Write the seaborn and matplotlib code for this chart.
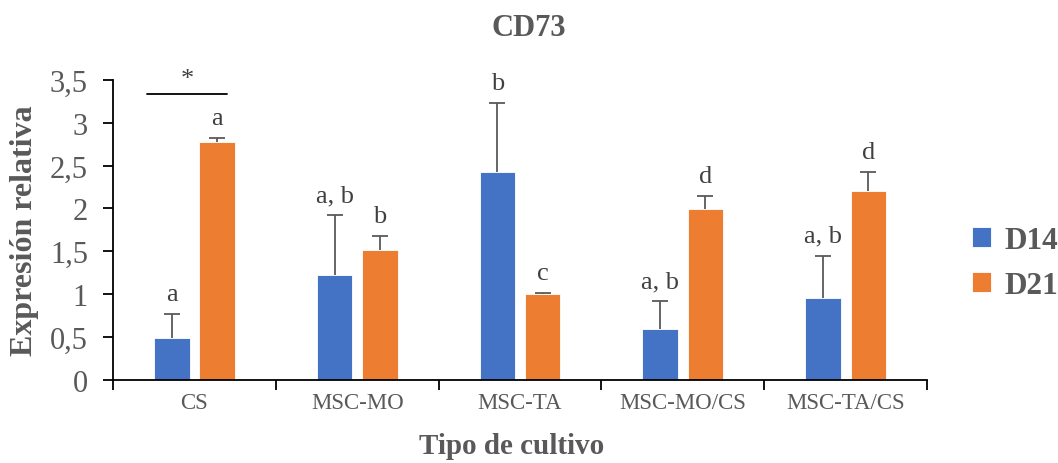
import numpy as np
import pandas as pd
import matplotlib
matplotlib.use("Agg")
import matplotlib.pyplot as plt
from matplotlib.ticker import FuncFormatter, FixedLocator
import seaborn as sns

categories = ["CS", "MSC-MO", "MSC-TA", "MSC-MO/CS", "MSC-TA/CS"]
d14 = [0.49, 1.22, 2.42, 0.60, 0.96]
d14_err = [0.28, 0.70, 0.81, 0.32, 0.49]
d21 = [2.77, 1.51, 1.00, 1.99, 2.20]
d21_err = [0.05, 0.17, 0.01, 0.16, 0.22]
letters_d14 = ["a", "a, b", "b", "a, b", "a, b"]
letters_d21 = ["a", "b", "c", "d", "d"]
series = ["D14", "D21"]
colors = ["#4472C4", "#ED7D31"]

df = pd.DataFrame({
    "Tipo de cultivo": categories * 2,
    "valor": d14 + d21,
    "dia": [series[0]] * len(categories) + [series[1]] * len(categories),
})

sns.set_theme(style="white")
plt.rcParams["font.family"] = ["Liberation Serif", "DejaVu Serif"]
TXT = "#595959"

fig = plt.figure(figsize=(10.58, 4.64), dpi=100)
ax = fig.add_axes([0.1068, 0.1789, 0.7694, 0.6471])

sns.barplot(data=df, x="Tipo de cultivo", y="valor", hue="dia",
            palette=colors, saturation=1, width=0.556, gap=0.216, errorbar=None,
            edgecolor="white", linewidth=0.6, ax=ax)

errs = [d14_err, d21_err]
letters = [letters_d14, letters_d21]
for cont, err, labs in zip(ax.containers, errs, letters):
    xs = np.array([b.get_x() + b.get_width() / 2 for b in cont])
    hs = np.array([b.get_height() for b in cont])
    tops = hs + np.array(err)
    ax.vlines(xs, hs, tops, color=TXT, lw=1.3, zorder=3)
    ax.plot(xs, tops, ls="none", marker="_", markersize=11, markeredgewidth=1.3,
            color=TXT, zorder=3)
    for x, t_, lab in zip(xs, tops, labs):
        ax.annotate(lab, (x, t_), xytext=(0, 10), textcoords="offset points",
                    ha="center", va="baseline", fontsize=19, color="#404040")

# significance bracket for CS
ax.plot([-0.29, 0.2], [3.33, 3.33], color="black", lw=1.3, clip_on=False)
ax.text(-0.045, 3.38, "*", ha="center", va="bottom", fontsize=19, color="#404040")

ax.set_ylim(0, 3.5)
ax.set_xlim(-0.5, len(categories) - 0.5)
ax.yaxis.set_major_locator(FixedLocator(np.arange(0, 3.51, 0.5)))
ax.yaxis.set_major_formatter(FuncFormatter(lambda v, p: f"{v:g}".replace(".", ",")))
ax.tick_params(axis="y", which="major", direction="out", length=7, width=1.3,
               color="black", labelsize=22, labelcolor=TXT, pad=11, left=True)
ax.xaxis.set_minor_locator(FixedLocator(np.arange(-0.5, len(categories), 1.0)))
ax.tick_params(axis="x", which="major", length=0, labelsize=16.5, labelcolor=TXT, pad=9)
ax.tick_params(axis="x", which="minor", direction="out", length=7, width=1.3,
               color="black", bottom=True)

for s in ["top", "right"]:
    ax.spines[s].set_visible(False)
for s in ["left", "bottom"]:
    ax.spines[s].set_color("black")
    ax.spines[s].set_linewidth(1.3)

ax.set_ylabel("Expresión relativa", fontsize=23, fontweight="bold", color=TXT)
ax.yaxis.set_label_coords(-0.109, 0.5)
ax.yaxis.label.set_va("center")
ax.set_xlabel("Tipo de cultivo", fontsize=21, fontweight="bold", color=TXT)
ax.xaxis.set_label_coords(0.49, -0.219)
ax.xaxis.label.set_va("center")

fig.text(529 / 1058, 1 - 28 / 464, "CD73", ha="center", va="center",
         fontsize=22, fontweight="bold", color=TXT)

handles, labels = ax.get_legend_handles_labels()
ax.legend_.remove()
leg = fig.legend(handles, labels, loc="center left",
                 bbox_to_anchor=(972 / 1058, 1 - 264 / 464), frameon=False,
                 handlelength=0.6, handleheight=0.6, handletextpad=0.45,
                 labelspacing=0.5, borderpad=0, borderaxespad=0,
                 prop={"size": 22.5, "weight": "bold"})
for t in leg.get_texts():
    t.set_color(TXT)

fig.savefig("out.png", dpi=100)
